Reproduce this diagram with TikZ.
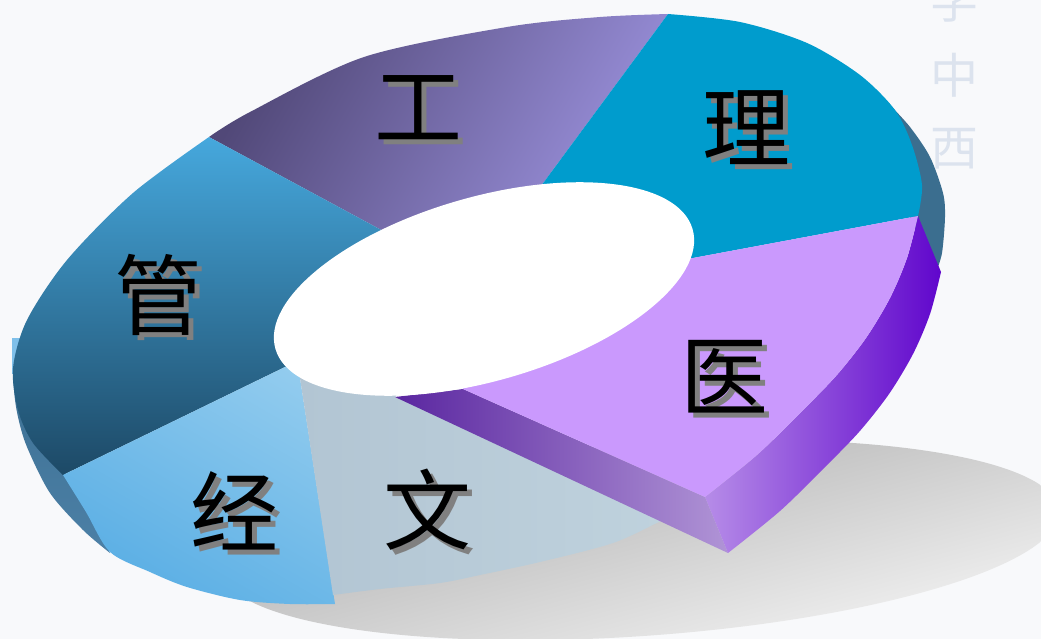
\documentclass[tikz,border=0pt]{standalone}
\usepackage{fontspec}
\newfontfamily\cjk{Noto Sans CJK SC}
\definecolor{bgc}{HTML}{F8F9FB}
\definecolor{liC}{HTML}{009CCD}
\definecolor{liSide}{HTML}{3B6E8F}
\definecolor{yiTop}{HTML}{CA99FD}
\definecolor{gongA}{HTML}{514878}
\definecolor{gongB}{HTML}{9F95E2}
\definecolor{guanA}{HTML}{46A8DD}
\definecolor{guanB}{HTML}{1D4966}
\definecolor{jingA}{HTML}{A8D7F2}
\definecolor{jingB}{HTML}{5DB0E5}
\definecolor{wenA}{HTML}{B2C5D3}
\definecolor{wenM}{HTML}{C9DBE5}
\definecolor{wenB}{HTML}{C0D3DE}
\definecolor{bandA}{HTML}{3B6E91}
\definecolor{bandB}{HTML}{4C80A6}
\definecolor{sliverC}{HTML}{7FC0EA}
\definecolor{curvA}{HTML}{B68CE8}
\definecolor{curvB}{HTML}{6006CC}
\definecolor{radA}{HTML}{5A26A0}
\definecolor{radB}{HTML}{B094D6}
\definecolor{shA}{HTML}{A6A6A6}
\definecolor{shB}{HTML}{F6F6F6}
\definecolor{wmC}{HTML}{DCE3EE}
\definecolor{txtsh}{HTML}{808080}
\begin{document}
\begin{tikzpicture}[x=1pt,y=-1pt,
  lbl/.style={font=\cjk\fontsize{88}{90}\selectfont, inner sep=0pt, text=black},
  lblsh/.style={lbl, text=txtsh},
  wm/.style={font=\cjk\fontsize{48}{50}\selectfont, inner sep=0pt, text=wmC}]
\useasboundingbox (0,0) rectangle (1041,639);
\clip (0,0) rectangle (1041,639);
\fill[bgc] (0,0) rectangle (1041,639);

% watermark
\node[wm] (wm1) at (954,0) {学};
\node[wm] (wm2) at (954,75) {中};
\node[wm] (wm3) at (954,149) {西};

% shadow
\shade[top color=shA, bottom color=shB, shading angle=15, rotate around={4:(640,540)}]
  (640,540) ellipse [x radius=420pt, y radius=96pt];

% side bands
\fill[liSide] plot[smooth] coordinates {(888,103) (910,127) (930,157) (943,193) (945,217) (942,253) (936,272)}
  -- (920,240) -- (880,150) -- cycle;
\shade[top color=bandA, bottom color=bandB]
  plot[smooth] coordinates {(12,345) (14,390) (18,417) (27,447) (50,493) (83,530) (110,553)}
  -- (100,528) -- (63,470) -- (30,360) -- cycle;
\fill[sliverC] (12,338) rectangle (30,374);

% top faces
% gong
\shade[top color=gongA, bottom color=gongB, shading angle=60]
  (385,232) -- (209,137) -- plot[smooth] coordinates {(209,137) (250,112) (364,57) (507,27) (600,17) (668,14)}
  -- (541,186) -- (484,289) -- cycle;
% li
\fill[liC]
  (541,186) -- (668,14) -- plot[smooth] coordinates {(668,14) (740,22) (807,43) (860,75) (895,110) (912,145) (922,185) (918,216)}
  -- (693,258) -- (484,289) -- cycle;
% guan
\shade[top color=guanA, bottom color=guanB]
  (385,232) -- (209,137) -- plot[smooth] coordinates {(209,137) (133,193) (67,260) (27,320) (13,368) (18,410) (33,443) (63,475)}
  -- (285,367) -- (484,289) -- cycle;
% jing
\shade[top color=jingA, bottom color=jingB, shading angle=-30]
  (285,367) -- (63,475) -- plot[smooth] coordinates {(63,475) (86,512) (110,552) (150,572) (187,587) (240,600) (290,604) (335,604)}
  -- (300,378) -- (484,289) -- cycle;
% wen
\shade[left color=wenA, middle color=wenM, right color=wenB]
  (300,378) -- (333,595) -- plot[smooth] coordinates {(333,595) (380,589) (440,583) (480,575) (540,562) (613,543) (663,520) (690,508)}
  -- (395,397) -- (484,289) -- cycle;

% yi slice (raised)
\shade[left color=radA, right color=radB]
  (395,397) -- (463,389) -- (705,497) -- (728,553) -- cycle;
\shade[left color=curvA, right color=curvB]
  (918,216) -- (941,272) -- plot[smooth] coordinates {(941,272) (930,314) (913,354) (889,394) (859,432) (823,469) (780,511) (728,553)}
  -- (705,497) -- plot[smooth] coordinates {(705,497) (757,455) (800,413) (836,376) (866,338) (890,298) (907,258) (918,216)} -- cycle;
\fill[yiTop]
  (693,258) -- (918,216) -- plot[smooth] coordinates {(918,216) (907,258) (890,298) (866,338) (836,376) (800,413) (757,455) (705,497)}
  -- (463,389) -- (484,289) -- cycle;

% hole
\fill[white, rotate around={16:(484,289)}] (484,289) ellipse [x radius=217pt, y radius=92pt];

% labels
\node[lblsh] (gongs) at (423,113) {工};
\node[lbl]   (gong)  at (418,108) {工};
\node[lblsh] (lis)   at (751,133) {理};
\node[lbl]   (li)    at (746,128) {理};
\node[lblsh] (guans) at (163,300) {管};
\node[lbl]   (guan)  at (158,295) {管};
\node[lblsh] (yis)   at (729,382) {医};
\node[lbl]   (yi)    at (724,377) {医};
\node[lblsh] (jings) at (239,516) {经};
\node[lbl]   (jing)  at (234,511) {经};
\node[lblsh] (wens)  at (432,515) {文};
\node[lbl]   (wen)   at (427,510) {文};
\end{tikzpicture}
\end{document}
